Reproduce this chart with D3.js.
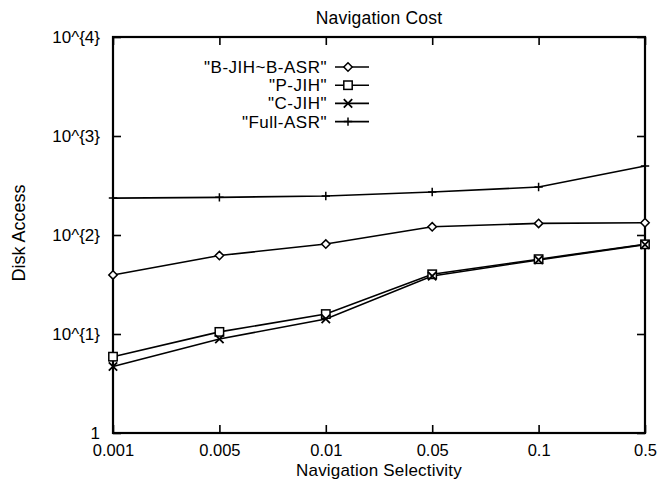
<!DOCTYPE html>
<html><head><meta charset="utf-8">
<script src="https://cdn.jsdelivr.net/npm/d3@7"></script>
<style>body{margin:0;background:#fff}text{font-family:"Liberation Sans",Arial,sans-serif;fill:#000}</style>
</head><body><svg id="c" width="659" height="482"></svg>
<script>
const categories = ["0.001","0.005","0.01","0.05","0.1","0.5"];
const seriesNames = ["\"B-JIH~B-ASR\"","\"P-JIH\"","\"C-JIH\"","\"Full-ASR\""];
const bjih = [39.5, 62, 81, 121, 131, 133];
const pjih = [5.9, 10.5, 15.9, 40.1, 57, 80.5];
const cjih = [4.7, 8.9, 14.2, 38.5, 56, 80];
const fullAsr = [236, 240, 248, 272, 305, 497];
const yTicks = [1, 10, 100, 1000, 10000];
const yTickLabels = ["1","10^{1}","10^{2}","10^{3}","10^{4}"];
const symbols = ["diamond","square","cross","plus"];

const svg = d3.select("#c");
const L=113, R=645, T=37, B=433;
const x = d3.scalePoint().domain(categories).range([L,R]);
const y = d3.scaleLog().domain([1,10000]).range([B,T]);

// title & labels
svg.append("text").attr("x",(L+R)/2).attr("y",24).attr("text-anchor","middle").attr("font-size",17.5).attr("letter-spacing",0.2).text("Navigation Cost");
svg.append("text").attr("x",(L+R)/2).attr("y",476).attr("text-anchor","middle").attr("font-size",17).attr("letter-spacing",0.2).text("Navigation Selectivity");
svg.append("text").attr("transform","translate(25,233) rotate(-90)").attr("text-anchor","middle").attr("font-size",18).text("Disk Access");

// axes
const ax = svg.append("g");
const xb = ax.append("g").attr("transform",`translate(0,${B})`)
  .call(d3.axisBottom(x).tickSizeInner(-8).tickSizeOuter(0).tickPadding(11));
const xt = ax.append("g").attr("transform",`translate(0,${T})`)
  .call(d3.axisTop(x).tickSizeInner(-8).tickSizeOuter(0).tickFormat(""));
const yl = ax.append("g").attr("transform",`translate(${L},0)`)
  .call(d3.axisLeft(y).tickValues(yTicks).tickFormat((d,i)=>yTickLabels[i]).tickSizeInner(-8).tickSizeOuter(0).tickPadding(13));
const yr = ax.append("g").attr("transform",`translate(${R},0)`)
  .call(d3.axisRight(y).tickValues(yTicks).tickFormat("").tickSizeInner(-8).tickSizeOuter(0));
ax.selectAll(".domain").remove();
ax.selectAll(".tick line").attr("stroke","#000").attr("stroke-width",1.6);
ax.selectAll(".tick text").attr("font-size",17).attr("font-family","Liberation Sans, Arial, sans-serif").attr("fill","#000");
xb.selectAll(".tick text").attr("font-size",16.5);
svg.append("rect").attr("x",L).attr("y",T).attr("width",R-L).attr("height",B-T)
  .attr("fill","none").attr("stroke","#000").attr("stroke-width",2.2);

function marker(g, type, cx, cy){
  const s=4.2;
  if(type==="diamond") g.append("path").attr("d",`M${cx},${cy-s}L${cx+s},${cy}L${cx},${cy+s}L${cx-s},${cy}Z`).attr("fill","#fff").attr("stroke","#000").attr("stroke-width",1.5);
  else if(type==="square") g.append("rect").attr("x",cx-s).attr("y",cy-s).attr("width",2*s).attr("height",2*s).attr("fill","#fff").attr("stroke","#000").attr("stroke-width",1.5);
  else if(type==="cross") g.append("path").attr("d",`M${cx-s},${cy-s}L${cx+s},${cy+s}M${cx-s},${cy+s}L${cx+s},${cy-s}`).attr("stroke","#000").attr("stroke-width",1.8);
  else g.append("path").attr("d",`M${cx-s},${cy}L${cx+s},${cy}M${cx},${cy-s}L${cx},${cy+s}`).attr("stroke","#000").attr("stroke-width",1.5);
}

const all=[bjih,pjih,cjih,fullAsr];
const line = d3.line().x((d,i)=>x(categories[i])).y(d=>y(d));
const g = svg.append("g");
all.forEach((vals,k)=>{
  g.append("path").datum(vals).attr("d",line).attr("fill","none").attr("stroke","#000").attr("stroke-width",1.6);
});
all.forEach((vals,k)=>{
  vals.forEach((v,i)=>marker(g,symbols[k],x(categories[i]),y(v)));
});

// legend
const lg = svg.append("g");
seriesNames.forEach((n,k)=>{
  const yy = 67 + k*18.2;
  lg.append("text").attr("x",327).attr("y",yy).attr("dy","0.35em").attr("text-anchor","end").attr("font-size",17).attr("letter-spacing",0.5).text(n);
  lg.append("line").attr("x1",335).attr("x2",369).attr("y1",yy).attr("y2",yy).attr("stroke","#000").attr("stroke-width",1.6);
  marker(lg,symbols[k],348,yy);
});
</script></body></html>
